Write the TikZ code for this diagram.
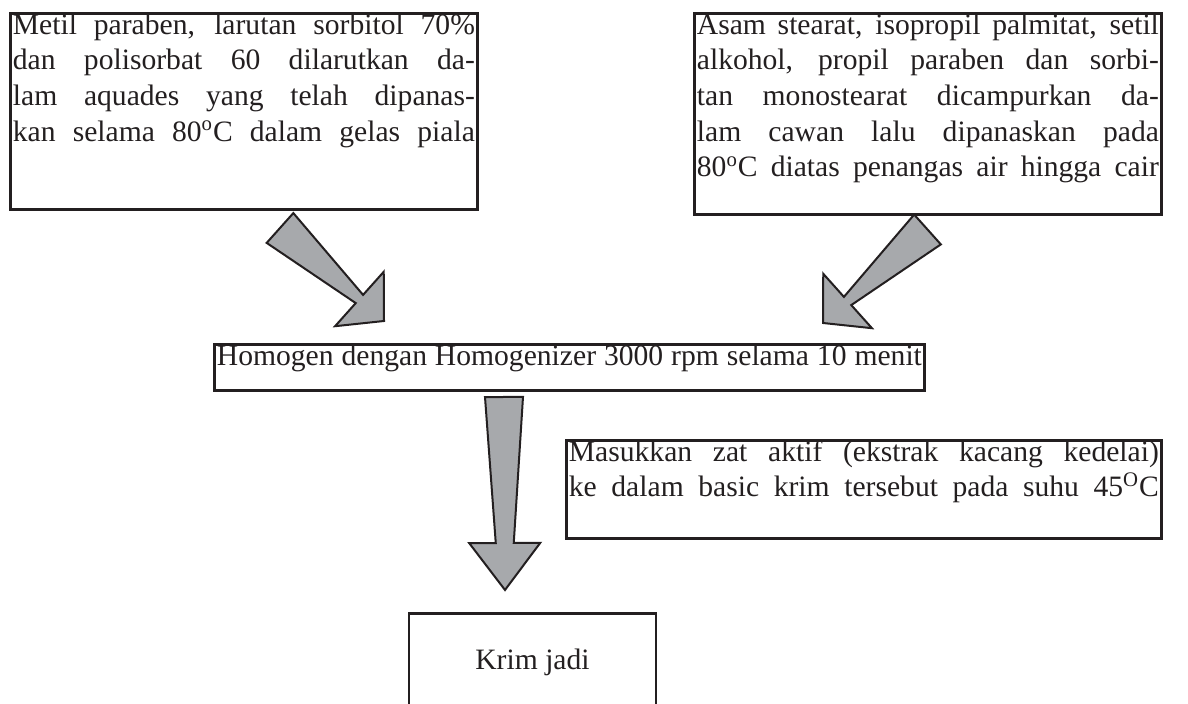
\documentclass[tikz,border=0pt]{standalone}
\usepackage{fontspec}
\setmainfont{Liberation Serif}
\usepackage{tikz}
\usetikzlibrary{calc}
\definecolor{ink}{HTML}{231F20}
\definecolor{arrowgray}{HTML}{A7A9AC}
\newcommand{\boxline}{1.4pt}
\newcommand{\arrline}{1pt}
\newcommand{\bodyfont}{\fontsize{14.8pt}{17.8pt}\selectfont}
% #1 tail, #2 tip, #3 tail half width, #4 neck half width, #5 head half width, #6 head length
\newcommand{\bigarrow}[6]{%
  \coordinate (hb) at ($(#2)!#6!(#1)$);
  \filldraw[fatarrow] ($(#1)!#3!90:(#2)$) -- ($(hb)!#4!90:(#2)$) -- ($(hb)!#5!90:(#2)$) -- (#2)
    -- ($(hb)!#5!-90:(#2)$) -- ($(hb)!#4!-90:(#2)$) -- ($(#1)!#3!-90:(#2)$) -- cycle;}
\tikzset{
  textbox/.style = {draw=ink, line width=\boxline, anchor=north west, inner xsep=1.25pt,
    inner ysep=0.5pt, text width=231pt, text height=10pt, align=justify, text=ink,
    font=\bodyfont, execute at begin node={\parfillskip=0pt\tolerance=10000\hbadness=10000}},
  fatarrow/.style = {draw=ink, fill=arrowgray, line width=\arrline, line join=miter},
}

\begin{document}
\begin{tikzpicture}[x=0.5pt,y=-0.5pt]
  %\draw[help lines] (0,0) grid (1188,704);
  \useasboundingbox (0,0) rectangle (1188,704);
  \clip (0,0) rectangle (1188,704);
  \node[textbox, text depth=87pt] (metil) at (9,12) {Metil paraben, larutan sorbitol 70\%\linebreak
    dan polisorbat 60 dilarutkan da-\linebreak lam aquades yang telah dipanas-\linebreak
    kan selama 80\textsuperscript{o}C dalam gelas piala};
  \node[textbox, text depth=89.5pt] (asam) at (693,12) {Asam stearat, isopropil palmitat, setil\linebreak
    alkohol, propil paraben dan sorbi-\linebreak tan monostearat dicampurkan da-\linebreak
    lam cawan lalu dipanaskan pada\linebreak 80\textsuperscript{o}C diatas penangas air hingga cair};
  \node[textbox, text width=352.5pt, text depth=12pt] (homogen) at (213,343)
    {Homogen dengan Homogenizer 3000 rpm selama 10 menit};
  \node[textbox, text width=295pt, text depth=38pt] (masuk) at (565,439)
    {Masukkan zat aktif (ekstrak kacang kedelai)\linebreak
    ke dalam basic krim tersebut pada suhu 45\textsuperscript{O}C};
  \node[draw=ink, line width=\boxline, anchor=north, minimum width=123.5pt, minimum height=49pt,
    inner sep=0pt, text=ink, font=\bodyfont] (krim) at (532.5,612) {Krim jadi};

  \coordinate (a1s) at (280,228);
  \coordinate (a1t) at (384,321);
  \coordinate (a2s) at (927.5,229.5);
  \coordinate (a2t) at (823,323);
  \coordinate (a3s) at (504,397);
  \coordinate (a3t) at (505,590);
  \bigarrow{a1s}{a1t}{10pt}{2.75pt}{18.25pt}{16.5pt}
  \bigarrow{a2s}{a2t}{10pt}{2.75pt}{18.25pt}{16.5pt}
  \bigarrow{a3s}{a3t}{9.5pt}{4.5pt}{17.75pt}{23.5pt}
\end{tikzpicture}
\end{document}
